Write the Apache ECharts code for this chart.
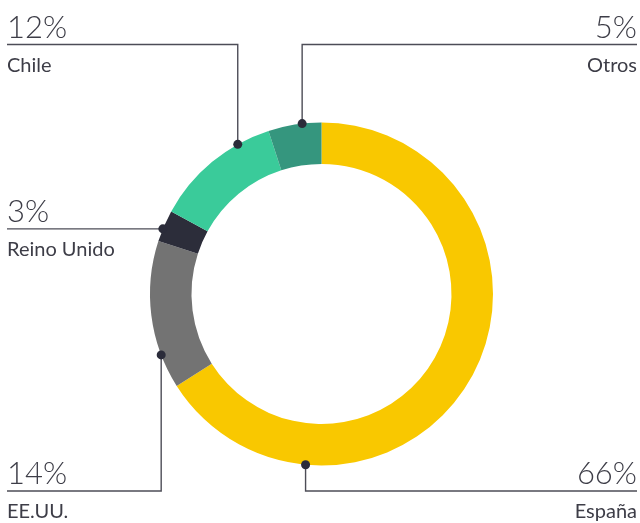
<!DOCTYPE html>
<html>
<head>
<meta charset="utf-8">
<script src="https://cdn.jsdelivr.net/npm/echarts@6/dist/echarts.min.js"></script>
<style>
  html, body { margin: 0; padding: 0; background: #fff; }
  #chart { width: 640px; height: 523px; }
</style>
</head>
<body>
<div id="chart"></div>
<script>
// Country share, clockwise from 12 o'clock
const countries = ['España', 'EE.UU.', 'Reino Unido', 'Chile', 'Otros'];
const shares = [66, 14, 3, 12, 5];
const colors = ['#f9c800', '#737373', '#2c2d3a', '#3acb9a', '#35967e'];

// where each leader line touches its slice (fraction of the slice, clockwise)
const anchorAt = [0.78, 0.23, 0.4, 0.74, 0.64];
// label corner: side and y of the rule under the percent (null = level with the dot)
const slots = [
    { side: 'right', lineY: 491 },
    { side: 'left', lineY: 491 },
    { side: 'left', lineY: null },
    { side: 'left', lineY: 44.5 },
    { side: 'right', lineY: 44.5 },
];

const CENTER = [321.5, 294];
const RADIUS = [130, 171.5];
const EDGE_L = 7;
const EDGE_R = 637;
const INK = '#3d3d47';

const total = shares.reduce((a, b) => a + b, 0);

/**
 * Point on the outer rim where the leader line of slice i starts
 */
function anchorPoint(i) {
    let before = 0;
    for (let j = 0; j < i; j++) before += shares[j];
    const rad = (before + shares[i] * anchorAt[i]) / total * Math.PI * 2;
    return [
        CENTER[0] + RADIUS[1] * Math.sin(rad),
        CENTER[1] - RADIUS[1] * Math.cos(rad),
    ];
}

const chart = echarts.init(document.getElementById('chart'));

chart.setOption({
    animation: false,
    series: [{
        type: 'pie',
        center: CENTER,
        radius: RADIUS,
        startAngle: 90,
        clockwise: true,
        silent: true,
        avoidLabelOverlap: false,
        emphasis: { disabled: true },
        data: countries.map((name, i) => ({
            name,
            value: shares[i],
            itemStyle: { color: colors[i] },
        })),
        label: {
            show: true,
            position: 'outside',
            overflow: 'none',
            width: 200,
            formatter: '{p|{c}%}\n{n|{b}}',
            rich: {
                p: { fontFamily: 'Lato', fontWeight: 300, fontSize: 31, lineHeight: 34, color: INK },
                n: { fontFamily: 'Lato', fontSize: 20, lineHeight: 42, color: INK },
            },
        },
        labelLine: {
            show: true,
            smooth: false,
            lineStyle: { color: '#4d4d57', width: 1.4 },
        },
        labelLayout: function (params) {
            const i = params.dataIndex;
            const p = anchorPoint(i);
            const slot = slots[i];
            const y = slot.lineY == null ? p[1] : slot.lineY;
            const left = slot.side === 'left';
            const edge = left ? EDGE_L : EDGE_R;
            return {
                x: edge,
                y: y - 34,
                align: left ? 'left' : 'right',
                verticalAlign: 'top',
                labelLinePoints: [p, [p[0], y], [edge, y]],
            };
        },
    }],
    graphic: shares.map((_, i) => {
        const p = anchorPoint(i);
        return {
            type: 'circle',
            z: 100,
            silent: true,
            shape: { cx: p[0], cy: p[1], r: 4.5 },
            style: { fill: '#2b2c3a' },
        };
    }),
});
</script>
</body>
</html>
